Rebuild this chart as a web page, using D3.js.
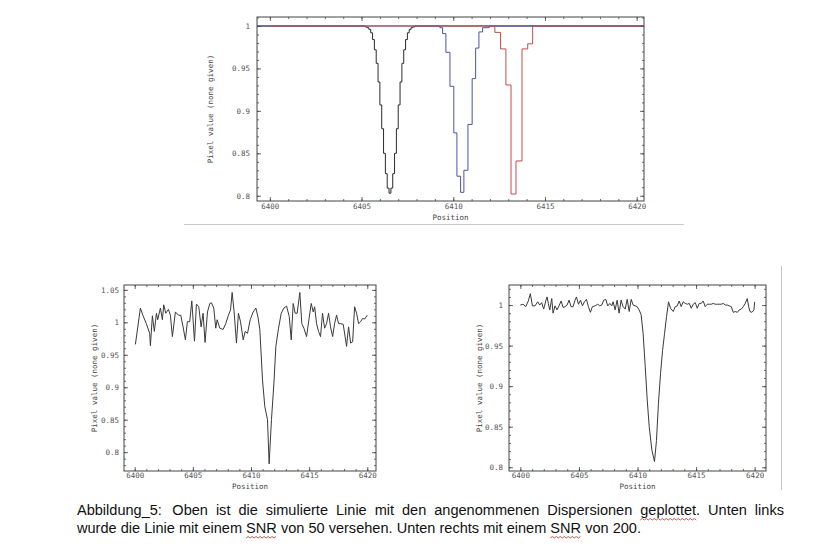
<!DOCTYPE html>
<html><head><meta charset="utf-8">
<script src="https://cdn.jsdelivr.net/npm/d3@7"></script>
<style>body{margin:0;background:#fff} svg{display:block}</style>
</head><body>
<svg id="c" width="829" height="549"></svg>
<script>
// ---------- DATA ----------
const xTickValues = [6400, 6405, 6410, 6415, 6420];
const yTicksTop = [0.8, 0.85, 0.9, 0.95, 1];
const yTicksLeft = [0.8, 0.85, 0.9, 0.95, 1, 1.05];
const yTicksRight = [0.8, 0.85, 0.9, 0.95, 1];
const xLabel = "Position";
const yLabel = "Pixel value (none given)";

// top panel: step profiles (bin start position, value)
const blackX = [6399.3, 6405.2, 6405.3, 6405.4, 6405.5, 6405.6, 6405.7, 6405.8, 6405.9, 6406.0, 6406.1, 6406.2, 6406.3, 6406.4, 6406.5, 6406.6, 6406.7, 6406.8, 6406.9, 6407.0, 6407.1, 6407.2, 6407.3, 6407.4, 6407.5, 6407.6, 6407.7, 6407.8, 6407.9, 6420.4];
const blackY = [1, 0.999, 0.998, 0.996, 0.992, 0.984, 0.972, 0.956, 0.934, 0.907, 0.879, 0.850, 0.826, 0.809, 0.803, 0.809, 0.826, 0.850, 0.879, 0.907, 0.934, 0.956, 0.972, 0.984, 0.992, 0.996, 0.998, 0.999, 1, 1];
const blueX = [6399.3, 6409.27, 6409.42, 6409.6, 6409.82, 6410.03, 6410.2, 6410.4, 6410.58, 6410.8, 6411.03, 6411.22, 6411.4, 6411.6, 6411.96, 6420.4];
const blueY = [1, 0.998, 0.991, 0.969, 0.929, 0.874, 0.823, 0.804, 0.830, 0.884, 0.938, 0.974, 0.993, 0.998, 1, 1];
const redX = [6400.0, 6412.27, 6412.58, 6412.87, 6413.15, 6413.42, 6413.75, 6414.06, 6414.33, 6420.4];
const redY = [1, 0.9925, 0.973, 0.9305, 0.802, 0.841, 0.973, 0.979, 1, 1];

// bottom left: SNR 50
const snr50X = [6400.06,6400.49,6400.72,6401.00,6401.29,6401.35,6401.52,6401.69,6401.87,6401.98,6402.21,6402.38,6402.50,6402.67,6402.90,6403.07,6403.24,6403.50,6403.76,6403.96,6404.16,6404.36,6404.53,6404.73,6404.91,6405.14,6405.31,6405.51,6405.71,6405.88,6406.05,6406.26,6406.46,6406.60,6406.80,6406.97,6407.09,6407.32,6407.60,6407.83,6408.06,6408.24,6408.38,6408.55,6408.75,6408.92,6409.10,6409.33,6409.50,6409.70,6409.93,6410.19,6410.42,6410.59,6410.76,6410.99,6411.19,6411.42,6411.56,6411.76,6411.97,6412.14,6412.37,6412.60,6412.83,6413.06,6413.29,6413.46,6413.63,6413.80,6413.97,6414.20,6414.37,6414.55,6414.78,6415.01,6415.18,6415.35,6415.47,6415.64,6415.81,6415.98,6416.15,6416.33,6416.50,6416.67,6416.84,6417.02,6417.19,6417.36,6417.53,6417.70,6417.93,6418.22,6418.39,6418.57,6418.74,6418.91,6419.08,6419.25,6419.43,6419.60,6419.77,6420.00];
const snr50Y = [0.966,1.022,1.010,0.998,0.983,0.964,1.010,0.986,1.014,1.004,1.022,1.004,1.027,1.014,1.020,1.011,0.978,1.016,1.011,1.011,0.993,0.973,1.001,1.001,1.033,0.971,1.028,1.024,0.993,1.014,0.969,1.016,1.029,1.030,1.022,0.991,1.004,0.991,0.989,0.998,1.011,1.019,1.046,1.016,0.968,1.014,1.001,0.973,0.986,0.983,1.004,1.016,1.022,1.009,0.989,0.911,0.870,0.850,0.782,0.850,0.906,0.963,0.991,1.014,1.022,1.025,1.009,0.973,1.029,1.014,1.014,1.046,0.998,0.991,0.978,1.008,1.029,1.016,1.024,0.998,0.986,0.978,1.014,0.991,0.998,1.014,0.993,0.978,0.998,1.011,0.998,0.998,0.997,0.963,0.993,0.968,0.970,1.024,1.014,0.998,1.001,1.006,1.005,1.011];

// bottom right: SNR 200
const snr200X = [6400.00,6400.23,6400.46,6400.68,6400.85,6401.03,6401.25,6401.48,6401.65,6401.82,6401.99,6402.17,6402.28,6402.39,6402.51,6402.68,6402.79,6402.96,6403.13,6403.30,6403.48,6403.65,6403.82,6403.99,6404.16,6404.33,6404.50,6404.67,6404.79,6404.96,6405.13,6405.30,6405.47,6405.64,6405.81,6405.98,6406.15,6406.38,6406.61,6406.78,6406.95,6407.12,6407.29,6407.46,6407.64,6407.81,6407.92,6408.09,6408.26,6408.43,6408.60,6408.77,6408.95,6409.12,6409.29,6409.46,6409.63,6409.80,6409.97,6410.14,6410.31,6410.48,6410.66,6410.83,6411.00,6411.23,6411.45,6411.62,6411.79,6411.97,6412.14,6412.31,6412.48,6412.65,6412.82,6413.05,6413.22,6413.39,6413.56,6413.73,6413.90,6414.07,6414.25,6414.42,6414.59,6414.76,6414.93,6415.10,6415.27,6415.44,6415.61,6415.78,6415.95,6416.13,6416.30,6416.47,6416.64,6416.81,6416.98,6417.15,6417.32,6417.49,6417.66,6417.83,6418.01,6418.18,6418.35,6418.52,6418.69,6418.86,6419.03,6419.20,6419.37,6419.49,6419.60,6419.77,6419.94,6420.00];
const snr200Y = [1.000,1.001,0.998,1.005,1.014,0.999,0.999,1.004,1.000,1.003,0.995,1.005,1.010,1.002,0.994,1.008,0.990,0.999,0.994,0.999,1.005,0.997,0.998,1.000,1.006,0.998,0.998,1.006,1.010,1.001,1.006,0.999,1.004,1.007,0.998,0.991,0.998,0.999,1.001,0.999,1.000,1.006,1.007,0.999,1.002,0.999,1.004,0.994,1.006,0.990,1.006,0.998,0.995,1.007,0.992,1.007,1.000,0.999,0.998,0.994,0.988,0.965,0.924,0.883,0.850,0.821,0.807,0.833,0.879,0.916,0.944,0.965,0.986,1.004,0.996,0.992,0.998,0.999,1.005,0.998,1.004,1.002,1.001,1.002,0.996,1.001,1.003,0.996,1.002,1.002,1.005,0.998,1.001,1.001,1.001,1.002,1.001,1.001,1.001,1.001,1.002,1.000,1.000,0.999,0.998,0.991,0.992,0.991,0.994,0.995,0.998,1.002,1.008,0.998,0.992,0.991,0.994,1.004];

const captionLine1 = "Abbildung_5:  Oben ist die simulierte Linie mit den angenommenen Dispersionen geplottet. Unten links";
const captionLine2 = "wurde die Linie mit einem SNR von 50 versehen. Unten rechts mit einem SNR von 200.";

// ---------- DRAWING ----------
const svg = d3.select("#c");
const MONO = "'DejaVu Sans Mono', monospace";
const zip = (a, b) => a.map((v, i) => [v, b[i]]);
let clipId = 0;

function panel(o) {
  const x = d3.scaleLinear().domain(o.xd).range([o.l, o.r]);
  const y = d3.scaleLinear().domain(o.yd).range([o.b, o.t]);
  const g = svg.append("g");
  const id = "clip" + (clipId++);
  g.append("clipPath").attr("id", id).append("rect")
    .attr("x", o.l).attr("y", o.t).attr("width", o.r - o.l).attr("height", o.b - o.t);

  const fmt = d => String(+d.toFixed(2));
  const xMinor = d3.range(6399, 6422, 1).filter(v => v >= o.xd[0] && v <= o.xd[1]);
  const yMinor = d3.range(Math.ceil(o.yd[0] * 100), Math.floor(o.yd[1] * 100) + 1).map(v => v / 100);

  function ax(axisFn, scale, vals, size, labels, tr) {
    const a = axisFn(scale).tickValues(vals).tickSize(size).tickPadding(3)
      .tickFormat(labels ? fmt : "");
    const s = g.append("g").attr("transform", tr).call(a);
    s.select(".domain").remove();
    s.selectAll("line").attr("stroke", "#444").attr("stroke-width", 0.8);
    s.selectAll("text").attr("fill", "#555").style("font-family", MONO).style("font-size", "7.5px");
    return s;
  }
  ax(d3.axisBottom, x, xMinor, -2, false, `translate(0,${o.b})`);
  ax(d3.axisBottom, x, xTickValues, -4, true, `translate(0,${o.b})`)
    .selectAll("text").attr("y", o.xlabDy);
  ax(d3.axisTop, x, xMinor, -2, false, `translate(0,${o.t})`);
  ax(d3.axisTop, x, xTickValues, -4, false, `translate(0,${o.t})`);
  ax(d3.axisLeft, y, yMinor, -2, false, `translate(${o.l},0)`);
  ax(d3.axisLeft, y, o.yt, -4, true, `translate(${o.l},0)`)
    .selectAll("text").attr("x", -o.ylabDx);
  ax(d3.axisRight, y, yMinor, -2, false, `translate(${o.r},0)`);
  ax(d3.axisRight, y, o.yt, -4, false, `translate(${o.r},0)`);

  const cg = g.append("g").attr("clip-path", `url(#${id})`);
  o.series.forEach(s => {
    const line = d3.line().x(d => x(d[0])).y(d => y(d[1]))
      .curve(s.step ? d3.curveStepAfter : d3.curveLinear);
    cg.append("path").datum(zip(s.x, s.y)).attr("d", line)
      .attr("fill", "none").attr("stroke", s.color).attr("stroke-width", s.w || 1);
  });

  g.append("rect").attr("x", o.l).attr("y", o.t).attr("width", o.r - o.l).attr("height", o.b - o.t)
    .attr("fill", "none").attr("stroke", "#444").attr("stroke-width", 1);

  g.append("text").attr("x", (o.l + o.r) / 2).attr("y", o.posY).attr("text-anchor", "middle")
    .attr("fill", "#444").style("font-family", MONO).style("font-size", "7.5px").text(xLabel);
  g.append("text").attr("transform", `translate(${o.yLabX},${(o.t + o.b) / 2}) rotate(-90)`)
    .attr("text-anchor", "middle").attr("fill", "#444").style("font-family", MONO)
    .style("font-size", "7.5px").text(yLabel);
}

panel({
  l: 257, r: 644, t: 17, b: 201, xd: [6399.3, 6420.4], yd: [0.7938, 1.0106], yt: yTicksTop,
  xlabDy: 3, ylabDx: 7, posY: 220, yLabX: 213,
  series: [
    { x: blackX, y: blackY, color: "#2a2a2a", step: true },
    { x: blueX, y: blueY, color: "#5050a8", step: true },
    { x: redX, y: redY, color: "#c44c4c", step: true }
  ]
});
panel({
  l: 124, r: 376, t: 285, b: 471, xd: [6399.08, 6420.75], yd: [0.771, 1.0575], yt: yTicksLeft,
  xlabDy: 2, ylabDx: 5, posY: 489, yLabX: 97,
  series: [{ x: snr50X, y: snr50Y, color: "#3a3a3a", step: false }]
});
panel({
  l: 509, r: 766, t: 285, b: 471, xd: [6399.03, 6420.97], yd: [0.7954, 1.0247], yt: yTicksRight,
  xlabDy: 2, ylabDx: 6, posY: 489, yLabX: 482,
  series: [{ x: snr200X, y: snr200Y, color: "#3a3a3a", step: false }]
});

// page lines
svg.append("line").attr("x1", 184).attr("x2", 684).attr("y1", 224.5).attr("y2", 224.5)
  .attr("stroke", "#c8c8c8").attr("stroke-width", 1);
svg.append("line").attr("x1", 781.5).attr("x2", 781.5).attr("y1", 266).attr("y2", 490)
  .attr("stroke", "#c8c8c8").attr("stroke-width", 1);

// ---------- CAPTION ----------
const SANS = "'Liberation Sans', Arial, sans-serif";
const FS = 14.5;
const capLeft = 77, capRight = 784, line2Right = 641;
function measure(t) {
  const n = svg.append("text").style("font-family", SANS).style("font-size", FS + "px").text(t);
  const w = n.node().getComputedTextLength(); n.remove(); return w;
}
const words1 = captionLine1.split(" ");
const words2 = captionLine2.split(" ");
const spaceW = measure("a a") - measure("aa");
const w2nat = words2.reduce((s, w) => s + measure(w), 0) + spaceW * (words2.length - 1);
const sx = (line2Right - capLeft) / w2nat;

function placeLine(words, baseY, justifyTo) {
  const widths = words.map(w => w ? measure(w) : 0);
  const sum = widths.reduce((a, b) => a + b, 0);
  const nReal = words.filter(w => w).length;
  const nEmpty = words.length - nReal;
  const extra = spaceW * 0.6;
  const gap = justifyTo ? ((justifyTo - capLeft) / sx - sum - nEmpty * extra) / (nReal - 1) : spaceW;
  const g = svg.append("g").attr("transform", `translate(${capLeft},${baseY}) scale(${sx},1)`);
  let cx = 0; const pos = [];
  words.forEach((w, i) => {
    if (w) {
      g.append("text").attr("x", cx).attr("y", 0).style("font-family", SANS)
        .style("font-size", FS + "px").attr("fill", "#111").text(w);
      pos.push({ w, x0: capLeft + cx * sx, x1: capLeft + (cx + widths[i]) * sx });
      cx += widths[i] + gap;
    } else {
      cx += extra;
    }
  });
  return pos;
}
const p1 = placeLine(words1, 515, capRight);
const p2 = placeLine(words2, 533, null);

function wavy(x0, x1, yb) {
  let d = `M${x0},${yb}`; let up = true;
  for (let xx = x0 + 2; xx <= x1; xx += 2) { d += `L${xx},${yb + (up ? -1.5 : 0)}`; up = !up; }
  svg.append("path").attr("d", d).attr("fill", "none").attr("stroke", "#d23c3c").attr("stroke-width", 0.9);
}
p1.filter(p => p.w.startsWith("geplottet")).forEach(p => wavy(p.x0, p.x1 - 3, 520));
p2.filter(p => p.w === "SNR").forEach(p => wavy(p.x0, p.x1, 538));
</script>
</body></html>
